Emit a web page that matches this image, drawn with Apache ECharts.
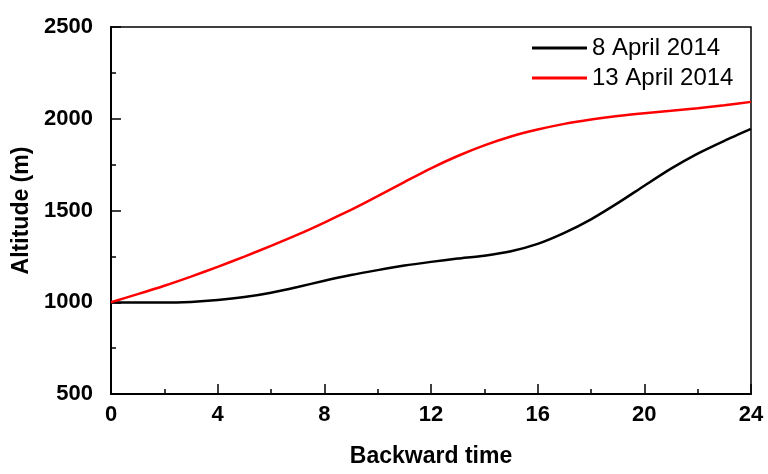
<!DOCTYPE html>
<html>
<head>
<meta charset="utf-8">
<script src="https://cdn.jsdelivr.net/npm/echarts@6/dist/echarts.min.js"></script>
<style>
html,body{margin:0;padding:0;background:#fff}
#Chart{width:768px;height:474px}
</style>
</head>
<body>
<div id="Chart"></div>
<script>
// 后退时间 (h)
var hours=[0,1,2,3,4,5,6,7,8,9,10,11,12,13,14,15,16,17,18,19,20,21,22,23,24]
var april8=[1000,998,998,1002,1012,1028,1052,1083,1117,1148,1175,1200,1220,1238,1254,1278,1318,1378,1452,1540,1635,1728,1810,1880,1945]
var april13=[1000,1044,1090,1140,1193,1249,1307,1368,1434,1504,1578,1655,1730,1797,1855,1903,1941,1972,1996,2015,2030,2043,2057,2073,2092]
var seriesNames=["8 April 2014","13 April 2014"]
var seriesColors=["#000000","#ff0000"]

function pairs(vals){
    var d=[]
    for(var i=0;i<hours.length;i++){
        d.push([hours[i],vals[i]])
    }
    return d
}

var myChart=echarts.init(document.getElementById('Chart'))
var font='"Liberation Sans", Arial, sans-serif'
var option={
    animation:false,
    textStyle:{fontFamily:font},
    grid:{left:111,right:17,top:27,bottom:80,show:true,borderColor:'#000',borderWidth:1.5},
    legend:{
        orient:'vertical',
        left:527,
        top:31,
        itemWidth:55,
        itemHeight:3,
        itemGap:6,
        icon:'rect',
        textStyle:{fontSize:24,color:'#000',fontFamily:font},
        data:seriesNames
    },
    xAxis:{
        type:'value',
        min:0,max:24,interval:4,
        name:'Backward time',
        nameLocation:'middle',
        nameGap:51,
        nameTextStyle:{fontSize:23,fontWeight:'bold',color:'#000'},
        axisLine:{lineStyle:{color:'#000',width:2}},
        axisTick:{inside:true,length:10,lineStyle:{color:'#000',width:1.5}},
        minorTick:{show:true,splitNumber:2,length:5,lineStyle:{color:'#000',width:1.5}},
        axisLabel:{fontSize:22,fontWeight:'bold',color:'#000',margin:10},
        splitLine:{show:false}
    },
    yAxis:{
        type:'value',
        min:500,max:2500,interval:500,
        name:'Altitude (m)',
        nameLocation:'middle',
        nameGap:78,
        nameTextStyle:{fontSize:23,fontWeight:'bold',color:'#000'},
        axisLine:{show:true,lineStyle:{color:'#000',width:2}},
        axisTick:{show:true,inside:true,length:10,lineStyle:{color:'#000',width:1.5}},
        minorTick:{show:true,splitNumber:2,length:5,lineStyle:{color:'#000',width:1.5}},
        axisLabel:{fontSize:22,fontWeight:'bold',color:'#000',margin:18,
            formatter:function(v){return String(v)}},
        splitLine:{show:false}
    },
    series:[
        {name:seriesNames[0],type:'line',data:pairs(april8),smooth:0.25,showSymbol:false,
            lineStyle:{color:seriesColors[0],width:2.5},itemStyle:{color:seriesColors[0]}},
        {name:seriesNames[1],type:'line',data:pairs(april13),smooth:0.25,showSymbol:false,
            lineStyle:{color:seriesColors[1],width:2.5},itemStyle:{color:seriesColors[1]}}
    ]
}
myChart.setOption(option)
</script>
</body>
</html>
